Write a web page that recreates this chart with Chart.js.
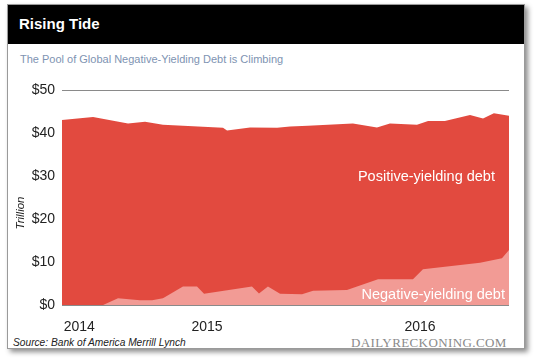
<!DOCTYPE html>
<html>
<head>
<meta charset="utf-8">
<script src="https://cdn.jsdelivr.net/npm/chart.js@4/dist/chart.umd.min.js"></script>
<style>
  html, body { margin: 0; padding: 0; background: #fff; width: 540px; height: 360px; overflow: hidden; }
  #frame { position: absolute; left: 7px; top: 4px; width: 516px; height: 343px; border: 1px solid #9a9a9a; background: #fff; box-shadow: 3px 3px 5px rgba(0,0,0,0.45); }
  #header { position: absolute; left: 0; top: 0; width: 516px; height: 39px; background: #000; }
  #title { position: absolute; left: 11px; top: 10px; color: #fff; font: bold 15px "Liberation Sans", Arial, sans-serif; }
  #subtitle { position: absolute; left: 12px; top: 48px; color: #7e93b2; font: 11px "Liberation Sans", Arial, sans-serif; }
  #source { position: absolute; left: 5px; top: 332px; color: #222; font: italic 10.2px "Liberation Sans", Arial, sans-serif; }
  #logo { position: absolute; left: 343px; top: 330px; color: #8a8a8a; font: 13px "Liberation Serif", serif; letter-spacing: 0.4px; }
  #c { position: absolute; left: 0; top: 0; }
</style>
</head>
<body>
<div id="frame">
  <div id="header"><div id="title">Rising Tide</div></div>
  <div id="subtitle">The Pool of Global Negative-Yielding Debt is Climbing</div>
  <div id="source">Source: Bank of America Merrill Lynch</div>
  <div id="logo">DAILYRECKONING.COM</div>
</div>
<canvas id="c" width="540" height="360"></canvas>
<script>
// Dates as decimal years
const tickYears = [2014.4, 2015, 2016];
const tickLabels = ['2014', '2015', '2016'];
const yTicks = [0, 10, 20, 30, 40, 50];

// Total global debt (trillion $) – top of the red area
const totalDates = [2014.319, 2014.465, 2014.629, 2014.709, 2014.793, 2015.075, 2015.094, 2015.202, 2015.329, 2015.390, 2015.474, 2015.685, 2015.798, 2015.859, 2015.986, 2016.038, 2016.117, 2016.235, 2016.296, 2016.347, 2016.418];
const totalDebt  = [43.0, 43.7, 42.2, 42.6, 41.9, 41.2, 40.6, 41.3, 41.2, 41.5, 41.7, 42.2, 41.3, 42.2, 41.9, 42.8, 42.8, 44.2, 43.4, 44.6, 44.0];

// Negative-yielding debt (trillion $)
const negDates = [2014.319, 2014.512, 2014.582, 2014.685, 2014.742, 2014.793, 2014.887, 2014.953, 2014.986, 2015.211, 2015.244, 2015.286, 2015.343, 2015.446, 2015.498, 2015.657, 2015.803, 2015.967, 2016.014, 2016.282, 2016.385, 2016.418];
const negativeDebt = [0, 0, 1.55, 1.1, 1.1, 1.55, 4.3, 4.3, 2.6, 4.3, 2.7, 4.3, 2.6, 2.5, 3.3, 3.5, 6.0, 6.0, 8.3, 9.8, 10.9, 12.8];

const RED = 'rgb(226,74,63)';
const PINK = 'rgb(242,155,149)';
const FONT = '"Liberation Sans", Arial, sans-serif';

const labelPlugin = {
  id: 'areaLabels',
  afterDatasetsDraw(chart) {
    const { ctx, scales: { x, y } } = chart;
    ctx.save();
    ctx.fillStyle = '#fff';
    ctx.font = '14.5px ' + FONT;
    ctx.textAlign = 'right';
    ctx.textBaseline = 'middle';
    ctx.fillText('Positive-yielding debt', x.getPixelForValue(2016.352), y.getPixelForValue(29.8));
    ctx.fillText('Negative-yielding debt', x.getPixelForValue(2016.399), y.getPixelForValue(2.3));
    ctx.restore();
    ctx.save();
    ctx.fillStyle = '#222';
    ctx.font = 'italic 11.5px ' + FONT;
    ctx.textAlign = 'center';
    ctx.textBaseline = 'middle';
    ctx.translate(21, 213);
    ctx.rotate(-Math.PI / 2);
    ctx.fillText('Trillion', 0, 0);
    ctx.restore();
  }
};

new Chart(document.getElementById('c'), {
  type: 'line',
  data: {
    datasets: [
      {
        label: 'Negative-yielding debt',
        data: negDates.map((d, i) => ({ x: d, y: negativeDebt[i] })),
        backgroundColor: PINK,
        borderWidth: 0,
        pointRadius: 0,
        fill: 'origin',
        tension: 0
      },
      {
        label: 'Total debt',
        data: totalDates.map((d, i) => ({ x: d, y: totalDebt[i] })),
        backgroundColor: RED,
        borderWidth: 0,
        pointRadius: 0,
        fill: 'origin',
        tension: 0
      }
    ]
  },
  options: {
    responsive: false,
    animation: false,
    layout: { padding: { left: 0, top: 90, right: 31, bottom: 25 } },
    plugins: { legend: { display: false }, tooltip: { enabled: false } },
    scales: {
      x: {
        type: 'linear',
        min: 2014.319,
        max: 2016.418,
        afterBuildTicks: s => { s.ticks = tickYears.map(v => ({ value: v })); },
        afterFit: s => { s.height = 30; },
        grid: { display: false },
        border: { display: false },
        ticks: {
          autoSkip: false,
          maxRotation: 0,
          padding: 6,
          color: '#222',
          font: { family: FONT, size: 14 },
          callback: (v, i) => tickLabels[i]
        }
      },
      y: {
        min: 0,
        max: 50,
        afterBuildTicks: s => { s.ticks = yTicks.map(v => ({ value: v })); },
        afterFit: s => { s.width = 62; },
        grid: { color: '#8a8a8a', lineWidth: 1, drawTicks: false },
        border: { display: false },
        ticks: {
          padding: 7,
          color: '#222',
          font: { family: FONT, size: 14 },
          callback: v => '$' + v
        }
      }
    }
  },
  plugins: [labelPlugin]
});
</script>
</body>
</html>
